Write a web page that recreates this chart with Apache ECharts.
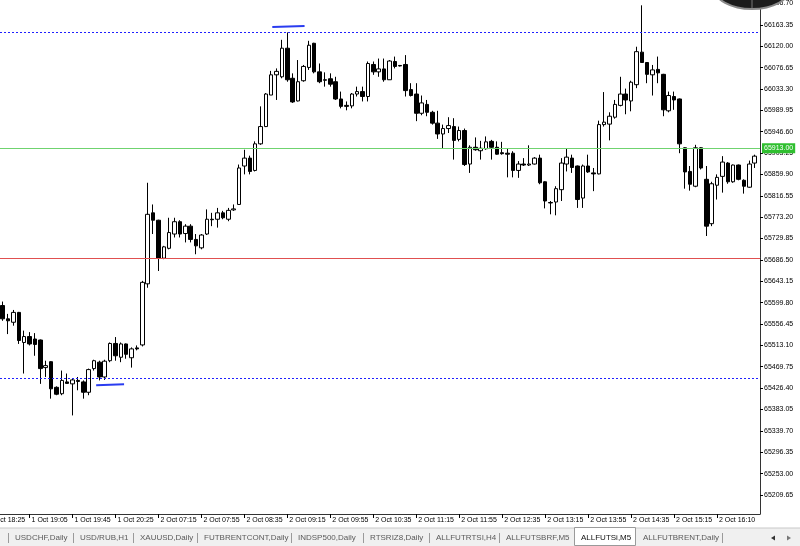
<!DOCTYPE html>
<html>
<head>
<meta charset="utf-8">
<script src="https://cdn.jsdelivr.net/npm/echarts@6/dist/echarts.min.js"></script>
<style>
  html, body { margin: 0; padding: 0; background: #fff; }
  #chart { width: 800px; height: 546px; }
</style>
</head>
<body>
<div id="chart"></div>
<script>
// ALLFUTSi, M5 — one bar per 5 minutes, bar index 0 = 1 Oct 18:40
const sessions = [
  { day: '1 Oct', start: '18:40', bars: 29 },
  { day: '2 Oct', start: '07:15', bars: 101 },
  { day: '2 Oct', start: '15:55', bars: 11 }
]

const opens = [
  65594, 65567, 65560, 65580, 65519, 65531, 65526, 65524, 65468, 65480,
  65428, 65415, 65439, 65435, 65442, 65439, 65418, 65466, 65479, 65449,
  65482, 65517, 65489, 65516, 65488, 65508, 65514, 65638, 65782, 65767,
  65690, 65710, 65739, 65764, 65740, 65755, 65728, 65711, 65739, 65769,
  65769, 65782, 65769, 65788, 65799, 65877, 65893, 65868, 65922, 65957,
  66021, 66062, 66058, 66116, 66055, 66009, 66050, 66077, 66126, 66068,
  66052, 66054, 66048, 66013, 66000, 65999, 66023, 66028, 66018, 66083,
  66068, 66074, 66052, 66089, 66081, 66083, 66032, 66023, 65984, 66002,
  65986, 65964, 65942, 65953, 65957, 65931, 65949, 65881, 65915, 65908,
  65912, 65927, 65915, 65904, 65903, 65903, 65868, 65881, 65879, 65881,
  65893, 65845, 65803, 65804, 65829, 65881, 65893, 65877, 65812, 65877,
  65863, 65861, 65961, 65962, 65976, 66000, 66023, 66009, 66042, 66108,
  66087, 66062, 66073, 66063, 65989, 66018, 66013, 65914, 65866, 65836,
  65914, 65850, 65760, 65838, 65856, 65883, 65845, 65879, 65848, 65834,
  65883
]
const closes = [
  65567, 65563, 65580, 65523, 65531, 65516, 65515, 65466, 65472, 65425,
  65414, 65442, 65436, 65443, 65440, 65418, 65464, 65482, 65449, 65481,
  65517, 65492, 65516, 65495, 65506, 65506, 65641, 65779, 65767, 65690,
  65713, 65742, 65764, 65739, 65755, 65728, 65715, 65737, 65769, 65768,
  65782, 65772, 65787, 65790, 65873, 65893, 65866, 65922, 65957, 66023,
  66062, 66069, 66116, 66052, 66007, 66048, 66079, 66122, 66068, 66048,
  66051, 66043, 66013, 65998, 65998, 66023, 66028, 66018, 66085, 66068,
  66074, 66052, 66090, 66079, 66080, 66030, 66020, 65984, 66005, 65986,
  65964, 65942, 65953, 65959, 65929, 65949, 65880, 65915, 65910, 65913,
  65926, 65915, 65901, 65902, 65901, 65868, 65881, 65879, 65881, 65893,
  65843, 65806, 65802, 65831, 65883, 65895, 65874, 65809, 65877, 65865,
  65861, 65961, 65966, 65978, 66002, 66023, 66011, 66047, 66109, 66087,
  66063, 66072, 66066, 65991, 66020, 66011, 65922, 65865, 65840, 65914,
  65873, 65755, 65841, 65854, 65885, 65845, 65879, 65850, 65836, 65881,
  65897
]
const highs = [
  65602, 65577, 65585, 65581, 65543, 65540, 65538, 65525, 65482, 65481,
  65430, 65462, 65456, 65445, 65449, 65442, 65466, 65484, 65482, 65484,
  65519, 65530, 65519, 65517, 65509, 65513, 65644, 65843, 65799, 65768,
  65715, 65772, 65772, 65767, 65759, 65759, 65739, 65739, 65789, 65782,
  65792, 65786, 65792, 65799, 65880, 65910, 65898, 65927, 65998, 66025,
  66070, 66075, 66133, 66148, 66065, 66092, 66082, 66131, 66127, 66085,
  66067, 66065, 66058, 66028, 66008, 66025, 66038, 66038, 66089, 66089,
  66095, 66095, 66092, 66099, 66082, 66102, 66045, 66045, 66020, 66011,
  65989, 65989, 65961, 65976, 65974, 65957, 65953, 65919, 65935, 65928,
  65937, 65930, 65927, 65926, 65913, 65907, 65887, 65893, 65919, 65895,
  65900, 65846, 65806, 65836, 65893, 65912, 65900, 65878, 65880, 65900,
  65873, 65969, 66027, 65986, 66011, 66058, 66034, 66050, 66119, 66203,
  66088, 66082, 66099, 66064, 66028, 66028, 66014, 65915, 65877, 65920,
  65915, 65877, 65845, 65860, 65897, 65885, 65880, 65880, 65850, 65888,
  65900
]
const lows = [
  65563, 65536, 65553, 65516, 65456, 65513, 65492, 65435, 65449, 65405,
  65412, 65412, 65435, 65371, 65422, 65405, 65412, 65462, 65442, 65443,
  65479, 65482, 65479, 65486, 65468, 65503, 65511, 65630, 65739, 65664,
  65688, 65708, 65732, 65732, 65722, 65722, 65698, 65708, 65737, 65755,
  65752, 65769, 65765, 65786, 65798, 65860, 65860, 65866, 65920, 65956,
  66021, 66011, 66055, 66048, 66005, 66008, 66048, 66072, 66065, 66045,
  66038, 66038, 66011, 65994, 65990, 65994, 66018, 66008, 66008, 66062,
  66058, 66048, 66052, 66075, 66079, 66018, 66018, 65968, 65980, 65978,
  65961, 65932, 65912, 65944, 65890, 65927, 65877, 65863, 65908, 65890,
  65910, 65890, 65900, 65900, 65854, 65854, 65853, 65877, 65877, 65880,
  65840, 65791, 65779, 65777, 65806, 65866, 65863, 65792, 65792, 65863,
  65826, 65860, 65957, 65929, 65973, 65998, 65982, 65988, 66035, 66086,
  66045, 66020, 66045, 65978, 65986, 65991, 65903, 65831, 65827, 65834,
  65870, 65735, 65755, 65809, 65823, 65841, 65843, 65848, 65821, 65833,
  65873
]

// price scale labels as printed on the right
const priceTicks = [
  66206.70, 66163.35, 66120.00, 66076.65, 66033.30, 65989.95, 65946.60,
  65903.25, 65859.90, 65816.55, 65773.20, 65729.85, 65686.50, 65643.15,
  65599.80, 65556.45, 65513.10, 65469.75, 65426.40, 65383.05, 65339.70,
  65296.35, 65253.00, 65209.65
]
// bars carrying a time label
const timeTickBars = [5, 13, 21, 29, 37, 45, 53, 61, 69, 77, 85, 93, 101, 109, 117, 125, 133]

// horizontal levels
const bidPrice = 65913.00
const redLevel = 65690.5
const blueLevels = [66149, 65446]
// hand-drawn short blue lines [barFrom, priceFrom, barTo, priceTo]
const trendSegments = [
  [50.2, 66159, 56.2, 66161],
  [17.4, 65432, 22.6, 65434]
]

const tabNames = ['USDCHF,Daily', 'USD/RUB,H1', 'XAUUSD,Daily', 'FUTBRENTCONT,Daily', 'INDSP500,Daily',
  'RTSRIZ8,Daily', 'ALLFUTRTSI,H4', 'ALLFUTSBRF,M5', 'ALLFUTSi,M5', 'ALLFUTBRENT,Daily']
const activeTab = 'ALLFUTSi,M5'

function pad2 (n) { return (n < 10 ? '0' : '') + n }
const barTimes = []
sessions.forEach(s => {
  const [h, m] = s.start.split(':').map(Number)
  for (let k = 0; k < s.bars; k++) {
    const t = h * 60 + m + k * 5
    barTimes.push(s.day + ' ' + pad2(Math.floor(t / 60)) + ':' + pad2(t % 60))
  }
})

const candles = opens.map((o, i) => [i, o, closes[i], lows[i], highs[i]])

const FONT = 'Liberation Sans'

const levelLines = [
  { yAxis: bidPrice, lineStyle: { color: '#6fd36f', type: 'solid', width: 1 },
    label: { show: true, position: 'end', distance: 2, formatter: bidPrice.toFixed(2),
      backgroundColor: '#2fbf2f', color: '#ffffff', fontSize: 7, fontFamily: FONT, padding: [2, 2, 1, 2] } },
  { yAxis: redLevel, lineStyle: { color: '#e05050', type: 'solid', width: 1 } }
].concat(blueLevels.map(v => ({ yAxis: v, lineStyle: { color: '#2020ff', type: [2, 2], width: 1 } })))
  .concat(trendSegments.map(s => [
    { coord: [s[0], s[1]], lineStyle: { color: '#2a3cf0', type: 'solid', width: 2 } },
    { coord: [s[2], s[3]] }
  ]))

// tab strip along the bottom
const tabX = [15, 80, 140, 204, 298, 370, 436, 506, 581, 643]
const sepX = [8, 73, 133, 197, 291, 363, 429, 499, 722]
const graphics = [
  { type: 'rect', shape: { x: 0, y: 528, width: 800, height: 18 }, style: { fill: '#f0f0f0' }, z: 1 },
  { type: 'line', shape: { x1: 0, y1: 528, x2: 800, y2: 528 }, style: { stroke: '#c8c8c8', lineWidth: 1 }, z: 2 },
  { type: 'rect', shape: { x: 574.5, y: 527.5, width: 61, height: 18 }, style: { fill: '#ffffff', stroke: '#9a9a9a', lineWidth: 1 }, z: 3 }
]
tabNames.forEach((name, i) => {
  graphics.push({
    type: 'text', x: tabX[i], y: 538, z: 4,
    style: { text: name, fill: name === activeTab ? '#111' : '#5a5a5a', font: '8px "' + FONT + '"', verticalAlign: 'middle' }
  })
})
sepX.forEach(x => {
  graphics.push({ type: 'line', shape: { x1: x + 0.5, y1: 533, x2: x + 0.5, y2: 543 }, style: { stroke: '#9a9a9a', lineWidth: 1 }, z: 4 })
})
graphics.push(
  { type: 'polygon', shape: { points: [[771, 538], [775, 535.5], [775, 540.5]] }, style: { fill: '#333' }, z: 4 },
  { type: 'polygon', shape: { points: [[791, 538], [787, 535.5], [787, 540.5]] }, style: { fill: '#777' }, z: 4 },
  // first time label, cut by the left edge
  { type: 'text', x: -11, y: 517, z: 4, style: { text: '1 Oct 18:25', fill: '#000', font: '7px "' + FONT + '"' } },
  { type: 'line', shape: { x1: -13.5, y1: 514, x2: -13.5, y2: 518 }, style: { stroke: '#000' } },
  // dark badge in the top right corner
  { type: 'ellipse', shape: { cx: 752, cy: -12, rx: 38, ry: 21 }, style: { fill: '#1c1c1c', stroke: '#8a8a8a', lineWidth: 2 }, z: 5 },
  { type: 'line', shape: { x1: 752, y1: 0, x2: 752, y2: 8 }, style: { stroke: '#777', lineWidth: 1 }, z: 6 }
)

const chart = echarts.init(document.getElementById('chart'), null, { renderer: 'canvas' })
chart.setOption({
  animation: false,
  backgroundColor: '#ffffff',
  grid: { left: 0, top: 0, right: 40, bottom: 32, containLabel: false },
  xAxis: {
    type: 'value',
    min: -0.5,
    max: 141,
    splitLine: { show: false },
    axisLine: { show: true, onZero: false, lineStyle: { color: '#333', width: 1 } },
    axisTick: { show: true, customValues: timeTickBars, length: 4, lineStyle: { color: '#000' } },
    axisLabel: {
      customValues: timeTickBars,
      formatter: v => barTimes[v] || '',
      align: 'left',
      margin: 3,
      padding: [0, 0, 0, 2],
      color: '#000',
      fontSize: 7,
      fontFamily: FONT
    }
  },
  yAxis: {
    type: 'value',
    position: 'right',
    min: 65171,
    max: 66210,
    scale: true,
    splitLine: { show: false },
    axisLine: { show: true, onZero: false, lineStyle: { color: '#333', width: 1 } },
    axisTick: { show: true, customValues: priceTicks, length: 3, lineStyle: { color: '#000' } },
    axisLabel: {
      customValues: priceTicks,
      formatter: v => v.toFixed(2),
      margin: 4,
      color: '#000',
      fontSize: 7,
      fontFamily: FONT
    }
  },
  series: [{
    type: 'candlestick',
    data: candles,
    encode: { x: 0, y: [1, 2, 3, 4] },
    barWidth: 4,
    itemStyle: {
      color: '#ffffff',
      color0: '#000000',
      borderColor: '#000000',
      borderColor0: '#000000',
      borderWidth: 1
    },
    markLine: {
      silent: true,
      symbol: ['none', 'none'],
      label: { show: false },
      data: levelLines
    }
  }],
  graphic: graphics
})
</script>
</body>
</html>
